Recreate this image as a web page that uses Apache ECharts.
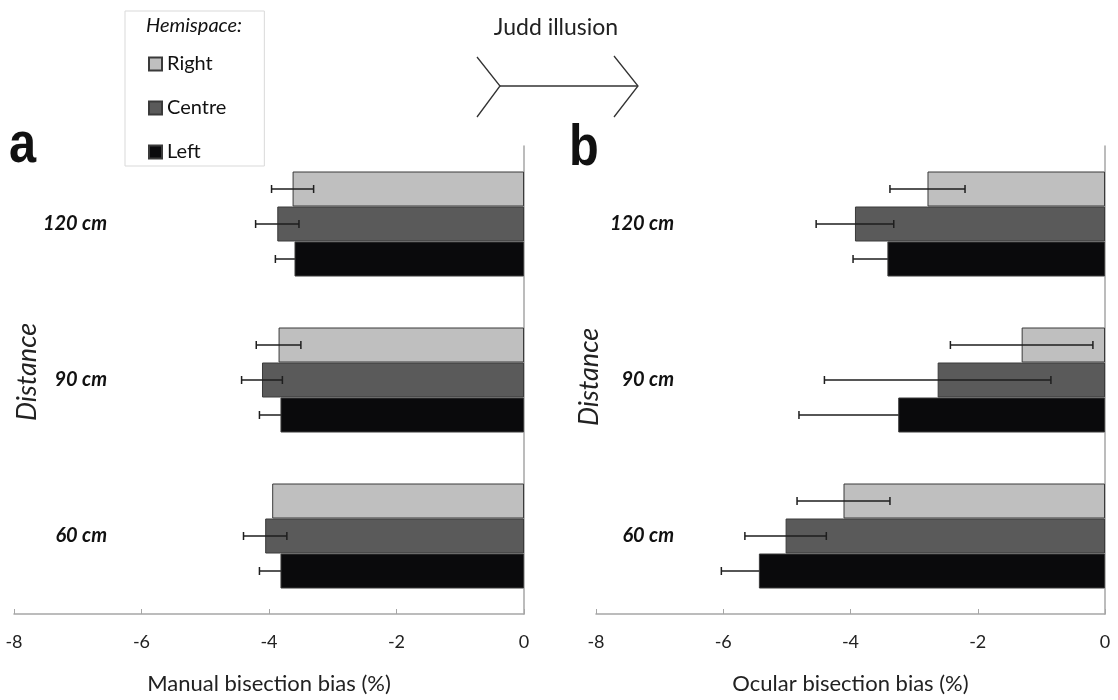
<!DOCTYPE html>
<html><head><meta charset="utf-8">
<script src="https://cdn.jsdelivr.net/npm/echarts@6/dist/echarts.min.js"></script>
<style>html,body{margin:0;padding:0;background:#fff}#c{width:1118px;height:700px}</style>
</head><body><div id="c"></div>
<script>
// ---- data ----
const categories = ['60 cm', '90 cm', '120 cm'];
const hemispaces = ['Right', 'Centre', 'Left'];
const xMin = -8, xMax = 0, xStep = 2;
const panelTitles = ['Manual bisection bias (%)', 'Ocular bisection bias (%)'];

const manualRight     = [-3.95, -3.85, -3.63];
const manualRightErr  = [null, 0.35, 0.33];
const manualCentre    = [-4.06, -4.11, -3.87];
const manualCentreErr = [0.34, 0.32, 0.34];
const manualLeft      = [-3.82, -3.82, -3.60];
const manualLeftErr   = [0.33, 0.33, 0.30];

const ocularRight     = [-4.11, -1.31, -2.79];
const ocularRightErr  = [0.73, 1.12, 0.59];
const ocularCentre    = [-5.02, -2.63, -3.93];
const ocularCentreErr = [0.64, 1.78, 0.61];
const ocularLeft      = [-5.44, -3.25, -3.42];
const ocularLeftErr   = [0.59, 1.56, 0.54];

// ---- styles ----
const BAR_W = 35, CAP = 4;
const colors = { Right: '#bfbfbf', Centre: '#5a5a5a', Left: '#0a0a0c' };
const errZ = { Right: 5, Centre: 5, Left: 1 };
const FONT = 'Lato, "Open Sans", sans-serif';
const BOLDFONT = '"Liberation Sans Narrow", "Liberation Sans", sans-serif';

const panels = [
  { vals: { Right: manualRight, Centre: manualCentre, Left: manualLeft },
    errs: { Right: manualRightErr, Centre: manualCentreErr, Left: manualLeftErr } },
  { vals: { Right: ocularRight, Centre: ocularCentre, Left: ocularLeft },
    errs: { Right: ocularRightErr, Centre: ocularCentreErr, Left: ocularLeftErr } }
];

const grids = [
  { left: 14, right: 594, top: 146, bottom: 83 },
  { left: 596, right: 13, top: 146, bottom: 83 }
];
const labelMargins = [417, 431];

const xAxes = grids.map((g, i) => ({
  type: 'value', gridIndex: i, min: xMin, max: xMax, interval: xStep,
  name: panelTitles[i], nameLocation: 'middle', nameGap: 59,
  nameTextStyle: { fontFamily: FONT, fontSize: 22, color: '#222' },
  axisLine: { show: true, onZero: false, lineStyle: { color: '#a6a6a6', width: 1.5 } },
  axisTick: { show: true, inside: true, length: 5, lineStyle: { color: '#a6a6a6' } },
  axisLabel: { margin: 19, fontFamily: FONT, fontSize: 18, color: '#222' },
  splitLine: { show: false }
}));

const yAxes = grids.map((g, i) => ({
  type: 'category', gridIndex: i, data: categories, position: 'right',
  axisLine: { show: true, onZero: false, lineStyle: { color: '#a6a6a6', width: 1.5 } },
  axisTick: { show: false },
  axisLabel: { inside: true, margin: labelMargins[i], align: 'right',
    fontFamily: FONT, fontStyle: 'italic', fontWeight: 'bold', fontSize: 20, color: '#111' },
  splitLine: { show: false }
}));

const series = [];
panels.forEach((p, pi) => {
  hemispaces.forEach((h) => {
    series.push({
      type: 'bar', name: h, xAxisIndex: pi, yAxisIndex: pi, z: 2,
      data: p.vals[h], barWidth: BAR_W, barGap: '0%',
      itemStyle: { color: colors[h], borderColor: '#3a3a3a', borderWidth: 1 },
      silent: true
    });
  });
  hemispaces.forEach((h, k) => {
    const data = [];
    p.vals[h].forEach((v, i) => {
      const e = p.errs[h][i];
      if (e != null) data.push([i, v - e, v + e]);
    });
    series.push({
      type: 'custom', name: h + ' error', xAxisIndex: pi, yAxisIndex: pi, z: errZ[h], silent: true,
      encode: { x: [1, 2], y: 0 }, data: data,
      renderItem: function (params, api) {
        const ci = api.value(0);
        const a = api.coord([api.value(1), ci]);
        const b = api.coord([api.value(2), ci]);
        const y = a[1] + (k - 1) * BAR_W;
        const s = { stroke: '#1e1e1e', lineWidth: 1.5 };
        return { type: 'group', children: [
          { type: 'line', shape: { x1: a[0], y1: y, x2: b[0], y2: y }, style: s },
          { type: 'line', shape: { x1: a[0], y1: y - CAP, x2: a[0], y2: y + CAP }, style: s },
          { type: 'line', shape: { x1: b[0], y1: y - CAP, x2: b[0], y2: y + CAP }, style: s }
        ] };
      }
    });
  });
});

const arrowStyle = { stroke: '#333', lineWidth: 1.3, fill: null };

const option = {
  animation: false,
  backgroundColor: '#fff',
  grid: grids,
  xAxis: xAxes,
  yAxis: yAxes,
  legend: {
    data: hemispaces, orient: 'vertical', left: 125, top: 11,
    padding: [43, 38, 4, 23], itemGap: 24, itemWidth: 13, itemHeight: 13, icon: 'rect',
    borderColor: '#d9d9d9', borderWidth: 1,
    textStyle: { fontFamily: FONT, fontSize: 20, color: '#111' },
    selectedMode: false
  },
  graphic: [
    { type: 'text', left: 146, top: 16, style: { text: 'Hemispace:', fontFamily: FONT, fontStyle: 'italic', fontSize: 20, fill: '#111' } },
    { type: 'text', x: 556, y: 28, style: { text: 'Judd illusion', fontFamily: FONT, fontSize: 23, fill: '#222', align: 'center', verticalAlign: 'middle' } },
    { type: 'polyline', shape: { points: [[477, 57], [500, 86], [477, 117]] }, style: arrowStyle },
    { type: 'line', shape: { x1: 500, y1: 86, x2: 638, y2: 86 }, style: arrowStyle },
    { type: 'polyline', shape: { points: [[614, 56], [638, 86], [614, 117]] }, style: arrowStyle },
    { type: 'text', x: 9, y: 146, scaleX: 0.84, style: { text: 'a', fontFamily: BOLDFONT, fontWeight: 'bold', fontSize: 58, fill: '#111', verticalAlign: 'middle' } },
    { type: 'text', x: 569, y: 149, scaleX: 0.84, style: { text: 'b', fontFamily: BOLDFONT, fontWeight: 'bold', fontSize: 58, fill: '#111', verticalAlign: 'middle' } },
    { type: 'text', x: 27, y: 372, rotation: Math.PI / 2, style: { text: 'Distance', fontFamily: FONT, fontStyle: 'italic', fontSize: 27, fill: '#222', align: 'center', verticalAlign: 'middle' } },
    { type: 'text', x: 589, y: 377, rotation: Math.PI / 2, style: { text: 'Distance', fontFamily: FONT, fontStyle: 'italic', fontSize: 27, fill: '#222', align: 'center', verticalAlign: 'middle' } }
  ],
  series: series
};

const chart = echarts.init(document.getElementById('c'), null, { renderer: 'canvas' });
chart.setOption(option);
</script>
</body></html>
